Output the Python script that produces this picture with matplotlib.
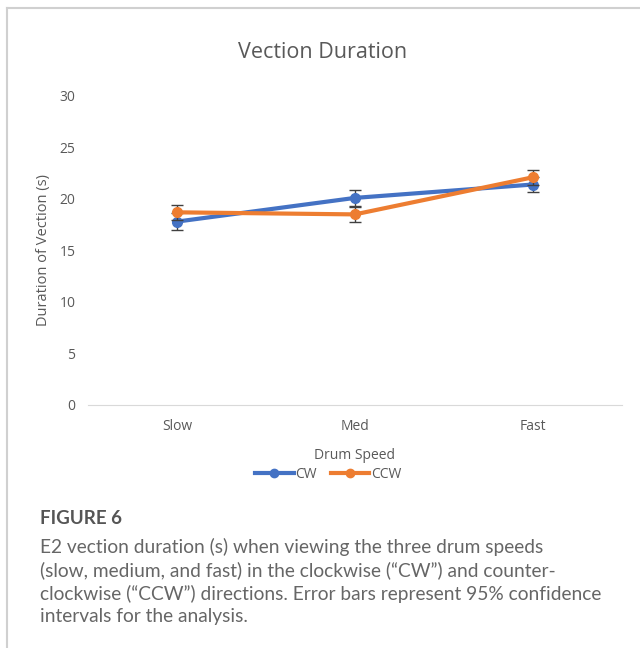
import numpy as np
import matplotlib.pyplot as plt
from matplotlib.lines import Line2D

# datos
speeds = ["Slow", "Med", "Fast"]
cw = [17.8, 20.1, 21.4]
cw_err = [0.8, 0.75, 0.75]
ccw = [18.7, 18.5, 22.1]
ccw_err = [0.7, 0.75, 0.75]

plt.rcParams['font.family'] = ['Open Sans', 'DejaVu Sans']

fig = plt.figure(figsize=(6.4, 6.48), dpi=100)

# marco gris de la figura
fig.add_artist(Line2D([0.011, 1.0], [0.988, 0.988], color="#d0d0d0", lw=1.5))
fig.add_artist(Line2D([0.011, 0.011], [0.0, 0.988], color="#d0d0d0", lw=1.5))

ax = fig.add_axes([0.1375, 0.375, 0.834, 0.477])
x = np.arange(len(speeds))

ax.errorbar(x, cw, yerr=cw_err, color="#4472C4", lw=3, marker="o", ms=7,
            ecolor="#404040", elinewidth=1, capsize=4, zorder=3)
ax.errorbar(x, ccw, yerr=ccw_err, color="#ED7D31", lw=3, marker="o", ms=7,
            ecolor="#404040", elinewidth=1, capsize=4, zorder=4)

ax.set_xlim(-0.5, 2.5)
ax.set_ylim(0, 30)
ax.set_yticks([0, 5, 10, 15, 20, 25, 30])
ax.set_xticks(x)
ax.set_xticklabels(speeds)
for s in ["top", "right", "left"]:
    ax.spines[s].set_visible(False)
ax.spines["bottom"].set_color("#d9d9d9")
ax.tick_params(axis="both", length=0, labelsize=10, colors="#595959")
ax.tick_params(axis="y", pad=9)
ax.tick_params(axis="x", pad=10)

fig.text(323 / 640, 1 - 52 / 648, "Vection Duration", fontsize=15.5, color="#595959",
         ha="center", va="center")
ax.set_ylabel("Duration of Vection (s)", fontsize=10.5, color="#595959", labelpad=6)
ax.set_xlabel("Drum Speed", fontsize=10, color="#595959", labelpad=10)

handles = [Line2D([], [], color="#4472C4", lw=3, marker="o", ms=6),
           Line2D([], [], color="#ED7D31", lw=3, marker="o", ms=6)]
fig.legend(handles, ["CW", "CCW"], loc="center", bbox_to_anchor=(328 / 640, 1 - 474 / 648),
           ncol=2, frameon=False, fontsize=10, labelcolor="#595959", handlelength=2.8,
           columnspacing=1.0, handletextpad=0.1, borderaxespad=0)

# leyenda de la figura
fig.text(0.0625, 1 - 519 / 648, "FIGURE 6", fontsize=13.5, color="#555555",
         fontweight="bold", family=["Lato", "DejaVu Sans"], va="center")
caption = ("E2 vection duration (s) when viewing the three drum speeds\n"
           "(slow, medium, and fast) in the clockwise (\u201cCW\u201d) and counter-\n"
           "clockwise (\u201cCCW\u201d) directions. Error bars represent 95% confidence\n"
           "intervals for the analysis.")
fig.text(0.0625, 1 - 538 / 648, caption, fontsize=13.8, color="#666666", va="top",
         linespacing=1.36, family=["Lato", "DejaVu Sans"])

plt.savefig("out.png", dpi=100)
